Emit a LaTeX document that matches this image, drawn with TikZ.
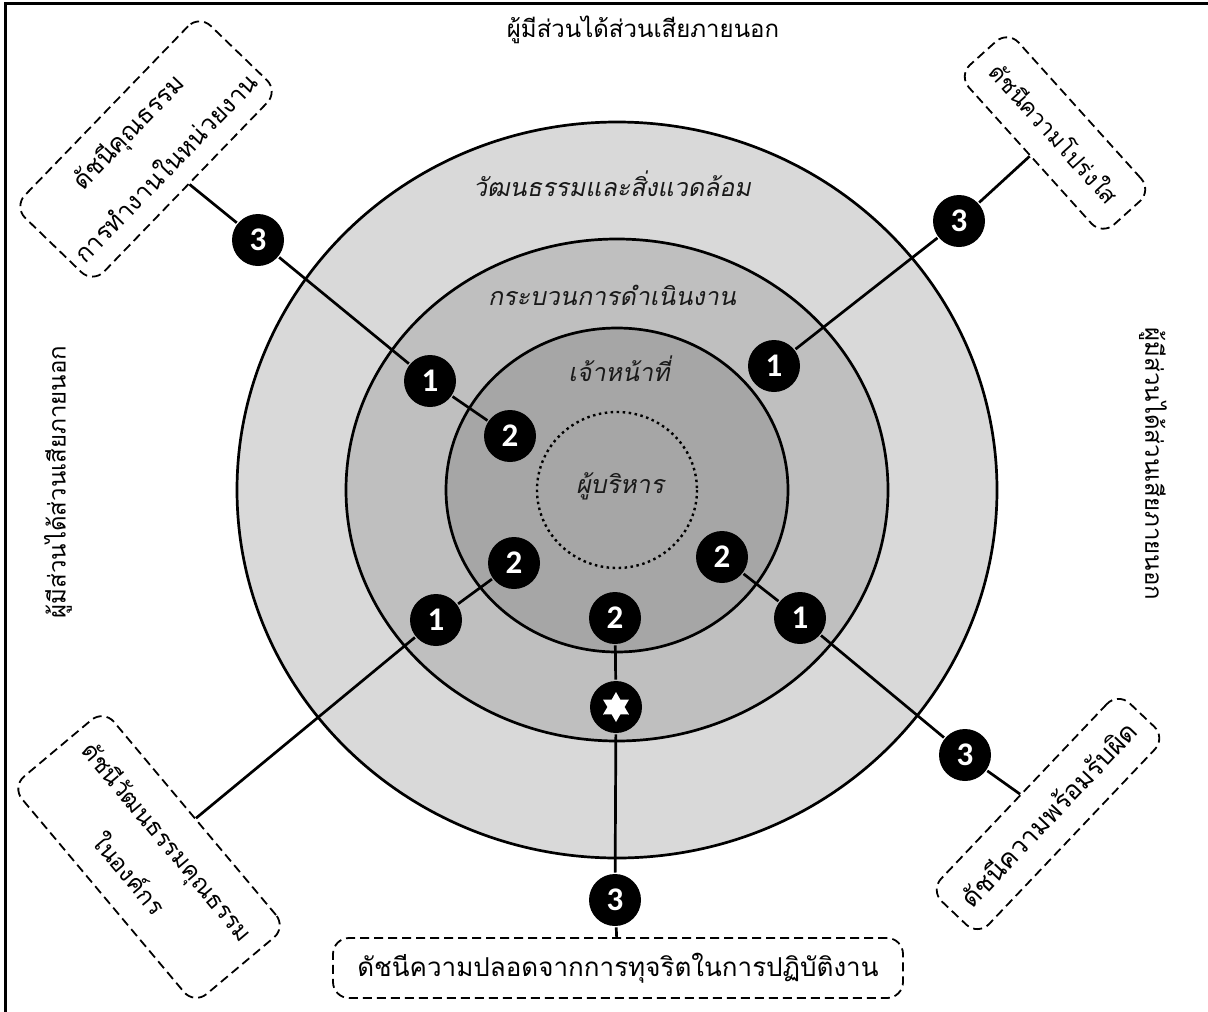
\documentclass[tikz,border=0pt]{standalone}
\usepackage{fontspec}
\usetikzlibrary{shapes.geometric}
\newfontfamily\thaifont[Script=Thai]{Loma}
\newfontfamily\thaiit[Script=Thai,FakeSlant=0.2]{Loma}
\newfontfamily\numfont{Carlito}
\definecolor{ringA}{HTML}{D9D9D9}
\definecolor{ringB}{HTML}{BFBFBF}
\definecolor{ringC}{HTML}{A6A6A6}
\newcommand\thaisize[1]{\thaifont\fontsize{#1}{2.1\dimexpr#1pt\relax}\selectfont}
\tikzset{
  badge/.style={circle,fill=black,text=white,minimum size=52,inner sep=0pt,
    font=\numfont\bfseries\fontsize{33}{33}\selectfont},
  idxbox/.style={draw,line width=1.8,dash pattern=on 9pt off 5pt,rounded corners=16,
    align=center,font=\thaisize{26}},
  ringlabel/.style={font=\thaiit\fontsize{25}{25}\selectfont,text=black!90},
  sidelabel/.style={font=\thaisize{24}},
}
\begin{document}
\begin{tikzpicture}[x=1pt,y=-1pt,line width=2.7]
  \useasboundingbox (0,0) rectangle (1208,1012);
  %% frame
  \draw[line width=3] (1208,3) -- (5,3) -- (5,1012);
  %% rings
  \foreach \rx/\ry/\c in {380/368/ringA,271/251/ringB,171/162/ringC}
    \draw[fill=\c] (617,490) ellipse [x radius=\rx, y radius=\ry];
  \draw[line width=2.4,dash pattern=on 2.5pt off 3.5pt] (617,490) ellipse [x radius=80, y radius=78];
  %% ring labels
  \node[ringlabel] (culture) at (612,184) {วัฒนธรรมและสิ่งแวดล้อม};
  \node[ringlabel] (process) at (612,295) {กระบวนการดำเนินงาน};
  \node[ringlabel] (staff) at (619,369) {เจ้าหน้าที่};
  \node[ringlabel] (exec) at (620,486) {ผู้บริหาร};
  %% stakeholders
  \node[sidelabel] (sktop) at (643,30) {ผู้มีส่วนได้ส่วนเสียภายนอก};
  \node[sidelabel,rotate=90] (skleft) at (58,482) {ผู้มีส่วนได้ส่วนเสียภายนอก};
  \node[sidelabel,rotate=-90] (skright) at (1153,464) {ผู้มีส่วนได้ส่วนเสียภายนอก};
  %% index boxes
  \node[idxbox,rotate=46,minimum width=267,minimum height=110,font=\thaisize{25}] (moral) at (146,149)
    {ดัชนีคุณธรรม\\การทำงานในหน่วยงาน};
  \node[idxbox,rotate=-48,minimum width=215,minimum height=67,font=\thaisize{23}] (transp) at (1055,133)
    {ดัชนีความโปร่งใส};
  \node[idxbox,rotate=-50,minimum width=284,minimum height=120,font=\thaisize{24}] (orgcult) at (149,857)
    {ดัชนีวัฒนธรรมคุณธรรม\\ในองค์กร};
  \node[idxbox,rotate=46.5,minimum width=273,minimum height=66] (account) at (1048,814)
    {ดัชนีความพร้อมรับผิด};
  \node[idxbox,minimum width=570,minimum height=60] (nocorr) at (618,968)
    {ดัชนีความปลอดจากการทุจริตในการปฏิบัติงาน};
  %% badges
  \foreach \n/\x/\y/\t in {m3/258/240/3,m1/430/381/1,m2/510/436/2,
      t3/959/221/3,t1/774/366/1,c1/436/620/1,c2/514/563/2,
      a2/722/557/2,a1/800/618/1,a3/965/755/3,n2/615/618/2,n3/615/900/3}
    \node[badge] (\n) at (\x,\y) {\t};
  \node[badge] (nstar) at (616,707) {};
  \node[star,star points=6,star point ratio=1.75,fill=white,minimum size=30,inner sep=0pt] (starmark) at (nstar) {};
  %% connectors
  \draw (moral) -- (m3) -- (m1) -- (m2);
  \draw (transp) -- (t3) -- (t1);
  \draw (orgcult) -- (c1) -- (c2);
  \draw (a2) -- (a1) -- (a3) -- (account);
  \draw (n2) -- (nstar) -- (n3) -- (nocorr);
\end{tikzpicture}
\end{document}
